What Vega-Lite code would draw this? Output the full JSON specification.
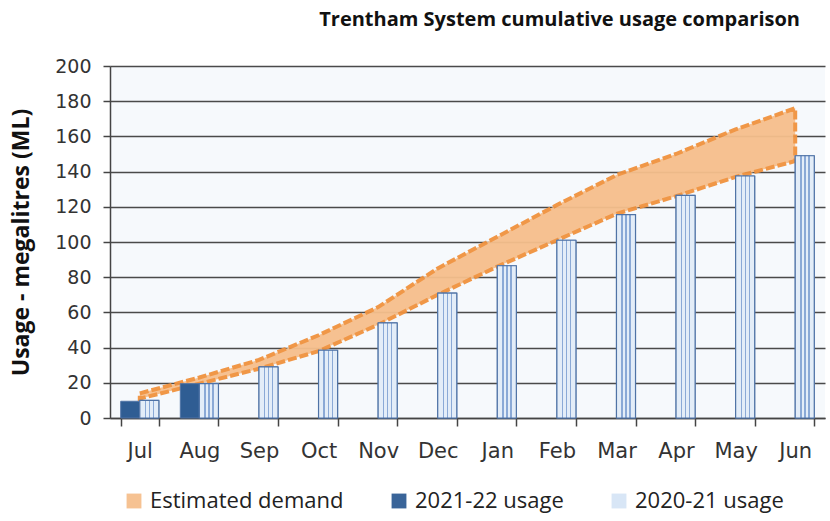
{
  "$schema": "https://vega.github.io/schema/vega-lite/v6.json",
  "autosize": {"type": "none"},
  "width": 715,
  "height": 352,
  "padding": {"left": 110, "top": 66, "right": 5, "bottom": 103},
  "background": "white",
  "view": {"fill": "#f6f9fc", "stroke": null},
  "title": {
    "text": "Trentham System cumulative usage comparison",
    "anchor": "end",
    "dx": -25,
    "offset": 27,
    "font": "Open Sans",
    "fontSize": 20,
    "fontWeight": "bold",
    "color": "#111111"
  },
  "datasets": {
    "demand": [
      {"month": "Jul", "low": 11, "value": 14, "series": "Estimated demand"},
      {"month": "Aug", "low": 19.5, "value": 23, "series": "Estimated demand"},
      {"month": "Sep", "low": 28, "value": 33, "series": "Estimated demand"},
      {"month": "Oct", "low": 38, "value": 47, "series": "Estimated demand"},
      {"month": "Nov", "low": 53, "value": 63, "series": "Estimated demand"},
      {"month": "Dec", "low": 70, "value": 85, "series": "Estimated demand"},
      {"month": "Jan", "low": 86, "value": 103, "series": "Estimated demand"},
      {"month": "Feb", "low": 101, "value": 121, "series": "Estimated demand"},
      {"month": "Mar", "low": 116, "value": 138, "series": "Estimated demand"},
      {"month": "Apr", "low": 126, "value": 150, "series": "Estimated demand"},
      {"month": "May", "low": 137, "value": 164, "series": "Estimated demand"},
      {"month": "Jun", "low": 146, "value": 176, "series": "Estimated demand"}
    ],
    "usage": [
      {"month": "Jul", "value": 9.5, "series": "2021-22 usage"},
      {"month": "Aug", "value": 19.5, "series": "2021-22 usage"},
      {"month": "Jul", "value": 10, "series": "2020-21 usage"},
      {"month": "Aug", "value": 19.5, "series": "2020-21 usage"},
      {"month": "Sep", "value": 29, "series": "2020-21 usage"},
      {"month": "Oct", "value": 38.5, "series": "2020-21 usage"},
      {"month": "Nov", "value": 54, "series": "2020-21 usage"},
      {"month": "Dec", "value": 71, "series": "2020-21 usage"},
      {"month": "Jan", "value": 86.5, "series": "2020-21 usage"},
      {"month": "Feb", "value": 101, "series": "2020-21 usage"},
      {"month": "Mar", "value": 115.5, "series": "2020-21 usage"},
      {"month": "Apr", "value": 126.5, "series": "2020-21 usage"},
      {"month": "May", "value": 137.5, "series": "2020-21 usage"},
      {"month": "Jun", "value": 149, "series": "2020-21 usage"}
    ]
  },
  "encoding": {
    "x": {
      "field": "month",
      "type": "nominal",
      "sort": ["Jul","Aug","Sep","Oct","Nov","Dec","Jan","Feb","Mar","Apr","May","Jun"],
      "scale": {"domain": ["Jul","Aug","Sep","Oct","Nov","Dec","Jan","Feb","Mar","Apr","May","Jun"], "paddingInner": 0.36, "paddingOuter": 0.18},
      "axis": {
        "title": null,
        "labelAngle": 0,
        "labelFont": "DejaVu Sans",
        "labelFontSize": 21,
        "labelColor": "#333333",
        "labelPadding": 14,
        "tickBand": "extent",
        "tickSize": 8,
        "tickColor": "#444444",
        "tickWidth": 1.5,
        "domainColor": "#444444",
        "domainWidth": 1.5,
        "grid": false
      }
    },
    "y": {
      "field": "value",
      "type": "quantitative",
      "scale": {"domain": [0, 200]},
      "axis": {
        "title": "Usage - megalitres (ML)",
        "titleFont": "Open Sans",
        "titleFontSize": 23,
        "titleFontWeight": "bold",
        "titleColor": "#111111",
        "titlePadding": 21,
        "values": [0,20,40,60,80,100,120,140,160,180,200],
        "labelOverlap": false,
        "labelFont": "DejaVu Sans",
        "labelFontSize": 19,
        "labelColor": "#333333",
        "labelPadding": 12,
        "tickSize": 7,
        "tickColor": "#444444",
        "tickWidth": 1.5,
        "domainColor": "#444444",
        "domainWidth": 1.5,
        "grid": true,
        "gridColor": "#4a4a4a",
        "gridWidth": 1.5
      }
    }
  },
  "layer": [
    {
      "data": {"name": "demand"},
      "mark": {"type": "area", "stroke": "#f0923e", "strokeWidth": 4, "strokeDash": [9, 3], "opacity": 0.95},
      "encoding": {
        "y2": {"field": "low"},
        "color": {
          "field": "series",
          "type": "nominal",
          "scale": {
            "domain": ["Estimated demand", "2021-22 usage", "2020-21 usage"],
            "range": ["#f6bf8c", "#2f5d93", "#d6e5f5"]
          },
          "legend": {
            "title": null,
            "orient": "none",
            "legendX": 13,
            "legendY": 424,
            "direction": "horizontal",
            "symbolType": "square",
            "symbolSize": 220,
            "symbolStrokeWidth": 0,
            "labelFont": "Open Sans",
            "labelFontSize": 22,
            "labelColor": "#222222",
            "labelLimit": 400,
            "labelOffset": 5,
            "columnPadding": 44
          }
        }
      }
    },
    {
      "data": {"name": "usage"},
      "mark": {"type": "bar", "stroke": "#4f73a6", "strokeWidth": 1},
      "encoding": {
        "xOffset": {"field": "series", "type": "nominal", "scale": {"domain": ["2021-22 usage", "2020-21 usage"], "paddingInner": 0, "paddingOuter": 0}},
        "color": {"field": "series", "type": "nominal"}
      }
    },
    {
      "data": {"name": "usage"},
      "transform": [{"filter": "datum.series === '2020-21 usage'"}],
      "mark": {
        "type": "bar",
        "stroke": "#4f73a6",
        "strokeWidth": 1.2,
        "fill": {
          "gradient": "linear",
          "x1": 0, "y1": 0, "x2": 1, "y2": 0,
          "stops": [
            {"offset": 0, "color": "#e3edf8"},
            {"offset": 0.26, "color": "#e3edf8"},
            {"offset": 0.26, "color": "#8aa9d6"},
            {"offset": 0.33, "color": "#8aa9d6"},
            {"offset": 0.33, "color": "#e3edf8"},
            {"offset": 0.47, "color": "#e3edf8"},
            {"offset": 0.47, "color": "#8aa9d6"},
            {"offset": 0.54, "color": "#8aa9d6"},
            {"offset": 0.54, "color": "#e3edf8"},
            {"offset": 0.68, "color": "#e3edf8"},
            {"offset": 0.68, "color": "#8aa9d6"},
            {"offset": 0.75, "color": "#8aa9d6"},
            {"offset": 0.75, "color": "#e3edf8"},
            {"offset": 1, "color": "#e3edf8"}
          ]
        }
      },
      "encoding": {
        "xOffset": {"field": "series", "type": "nominal"}
      }
    }
  ]
}
